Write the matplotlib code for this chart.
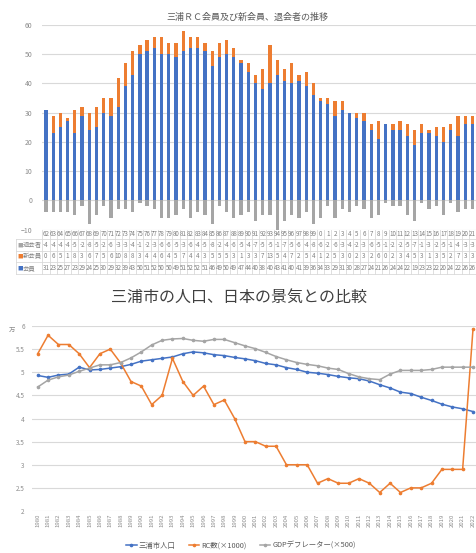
import matplotlib
matplotlib.use('Agg')
import matplotlib.pyplot as plt
import matplotlib.transforms as mtransforms
import numpy as np

plt.rcParams['font.family'] = ['Noto Sans CJK JP', 'DejaVu Sans']

# ---------------- data: top chart ----------------
years_top = ['62', '63', '64', '65', '66', '67', '68', '69', '70', '71',
             '72', '73', '74', '75', '76', '77', '78', '79', '80', '81',
             '82', '83', '84', '85', '86', '87', '88', '89', '90', '91',
             '92', '93', '94', '95', '96', '97', '98', '99', '0', '1',
             '2', '3', '4', '5', '6', '7', '8', '9', '10', '11',
             '12', '13', '14', '15', '16', '17', '18', '19', '20', '21']
members = [31, 23, 25, 27, 23, 29, 24, 25, 30, 29,
           32, 39, 43, 50, 51, 52, 50, 50, 49, 51,
           52, 52, 51, 46, 49, 50, 49, 47, 44, 40,
           38, 40, 43, 41, 40, 41, 39, 36, 34, 33,
           29, 31, 30, 28, 27, 24, 21, 26, 24, 24,
           22, 19, 23, 23, 22, 20, 24, 22, 26, 26]
new_members = [0, 6, 5, 1, 8, 3, 6, 7, 5, 6,
               10, 8, 8, 3, 4, 4, 6, 4, 5, 7,
               4, 4, 3, 5, 5, 5, 3, 1, 3, 3,
               7, 13, 5, 4, 7, 2, 5, 4, 1, 2,
               5, 3, 0, 2, 3, 2, 6, 0, 2, 3,
               4, 5, 3, 1, 3, 5, 2, 7, 3, 3]
retired = [-4, -4, -4, -4, -5, -2, -8, -5, -2, -6,
           -3, -3, -4, -1, -2, -3, -6, -6, -5, -3,
           -6, -4, -5, -8, -2, -4, -6, -5, -4, -7,
           -5, -5, -10, -7, -5, -6, -4, -8, -6, -2,
           -6, -3, -4, -2, -3, -6, -5, -1, -2, -2,
           -5, -7, -1, -3, -2, -5, -1, -4, -3, -3]
row_names = ['退会者', '新会員', '会員']

# ---------------- data: bottom chart ----------------
years_bottom = list(range(1980, 2023))
population = [4.93, 4.89, 4.94, 4.96, 5.11, 5.05, 5.06, 5.09, 5.12, 5.17,
              5.24, 5.27, 5.30, 5.33, 5.40, 5.44, 5.42, 5.38, 5.36, 5.32,
              5.29, 5.25, 5.19, 5.16, 5.10, 5.06, 5.00, 4.98, 4.95, 4.91,
              4.88, 4.86, 4.81, 4.73, 4.66, 4.57, 4.54, 4.46, 4.39, 4.31,
              4.25, 4.21, 4.15]
rc_count = [5.4, 5.8, 5.6, 5.6, 5.4, 5.1, 5.4, 5.5, 5.2, 4.8,
            4.7, 4.3, 4.5, 5.3, 4.8, 4.5, 4.7, 4.3, 4.4, 4.0,
            3.5, 3.5, 3.4, 3.4, 3.0, 3.0, 3.0, 2.6, 2.7, 2.6,
            2.6, 2.7, 2.6, 2.4, 2.6, 2.4, 2.5, 2.5, 2.6, 2.9,
            2.9, 2.9, 5.93]
gdp_deflator = [4.68, 4.83, 4.90, 4.94, 5.02, 5.09, 5.16, 5.16, 5.21, 5.31,
                5.44, 5.59, 5.69, 5.72, 5.73, 5.69, 5.67, 5.71, 5.71, 5.64,
                5.57, 5.51, 5.43, 5.34, 5.27, 5.21, 5.17, 5.14, 5.09, 5.06,
                4.97, 4.90, 4.86, 4.84, 4.96, 5.04, 5.04, 5.04, 5.06, 5.11,
                5.11, 5.11, 5.11]
series_labels = ['三浦市人口', 'RC数(×1000)', 'GDPデフレーター(×500)']

# ---------------- styling ----------------
W, H = 476, 553
BLUE = '#4472C4'
ORANGE = '#ED7D31'
GRAY = '#A5A5A5'
GRID = '#D9D9D9'
TICK = '#8C8C8C'
TXT = '#595959'

fig = plt.figure(figsize=(W / 100, H / 100), dpi=100)


def frac(x0, y0, x1, y1):
    return [x0 / W, 1 - y1 / H, (x1 - x0) / W, (y1 - y0) / H]


# ================= top chart =================
ax1 = fig.add_axes(frac(42.3, 25, 476, 229.5))
x = np.arange(len(years_top))
bw = 0.45
ax1.bar(x, members, width=bw, color=BLUE, zorder=2)
ax1.bar(x, new_members, bottom=members, width=bw, color=ORANGE, zorder=2)
ax1.bar(x, retired, width=bw, color=GRAY, zorder=2)
ax1.set_xlim(-0.5, len(x) - 0.5)
ax1.set_ylim(-10, 60)
ax1.set_yticks(range(-10, 61, 10))
ax1.yaxis.grid(True, color=GRID, lw=0.8)
ax1.set_axisbelow(True)
for s in ax1.spines.values():
    s.set_visible(False)
ax1.set_xticks([])
ax1.tick_params(axis='y', length=0, labelsize=5, labelcolor=TICK, pad=7)

fig.text(247 / W, 1 - 17 / H, '三浦ＲＣ会員及び新会員、退会者の推移',
         ha='center', va='center', fontsize=6.5, color=TXT)

# data table below
ov = fig.add_axes([0, 0, 1, 1], zorder=-1)
ov.set_xlim(0, W)
ov.set_ylim(H, 0)
ov.axis('off')
tr = mtransforms.blended_transform_factory(ax1.transData, ov.transData)

row_edges = [229.5, 239.0, 250.5, 262.0, 273.5]
lbl_left = 15.7
for yy in row_edges[1:]:
    ov.plot([lbl_left, W], [yy, yy], color=GRID, lw=0.6)
ov.plot([lbl_left, lbl_left], [row_edges[1], row_edges[-1]], color=GRID, lw=0.6)
for i in range(len(x) + 1):
    ov.plot([i - 0.5, i - 0.5], [row_edges[0], row_edges[-1]], color=GRID,
            lw=0.6, transform=tr)

tfs = 4.5
tcol = '#7F7F7F'
rows = [retired, new_members, members]
row_cols = [GRAY, ORANGE, BLUE]
for i, yl in enumerate(years_top):
    ov.text(i, (row_edges[0] + row_edges[1]) / 2, yl, transform=tr,
            ha='center', va='center', fontsize=tfs, color=tcol)
    for r, vals in enumerate(rows):
        yc = (row_edges[r + 1] + row_edges[r + 2]) / 2
        s = str(vals[i])
        if len(s) > 2:
            s = s[:2]
        ov.text(i, yc, s, transform=tr, ha='center', va='center',
                fontsize=tfs, color=tcol)
for r, name in enumerate(row_names):
    yc = (row_edges[r + 1] + row_edges[r + 2]) / 2
    ov.text(17.5, yc, '■', ha='left', va='center', fontsize=4, color=row_cols[r])
    ov.text(23, yc, name, ha='left', va='center', fontsize=4.6, color=tcol)

# ================= bottom chart =================
ax2 = fig.add_axes(frac(31.7, 326, 476, 511))
xb = np.arange(len(years_bottom))
ax2.plot(xb, population, color=BLUE, lw=1.1, marker='o', ms=1.6, label=series_labels[0])
ax2.plot(xb, rc_count, color=ORANGE, lw=1.1, marker='o', ms=1.6, label=series_labels[1])
ax2.plot(xb, gdp_deflator, color=GRAY, lw=1.1, marker='o', ms=1.6, label=series_labels[2])
ax2.set_xlim(-0.58, len(xb) - 0.71)
ax2.set_ylim(2, 6)
yt = np.arange(2, 6.01, 0.5)
ax2.set_yticks(yt)
ax2.set_yticklabels([('%g' % v) for v in yt])
ax2.set_xticks(xb)
ax2.set_xticklabels([str(y) for y in years_bottom], rotation=90)
ax2.yaxis.grid(True, color=GRID, lw=0.8)
ax2.set_axisbelow(True)
for s in ax2.spines.values():
    s.set_visible(False)
ax2.tick_params(axis='y', length=0, labelsize=4.6, labelcolor=TICK, pad=5)
ax2.tick_params(axis='x', length=0, labelsize=4.3, labelcolor=TICK, pad=2)

fig.text(239.5 / W, 1 - 297 / H, '三浦市の人口、日本の景気との比較',
         ha='center', va='center', fontsize=11.5, color='#404040')
fig.text(12 / W, 1 - 330 / H, '万', ha='center', va='center', fontsize=4.6,
         color=TICK)

leg = ax2.legend(loc='center', bbox_to_anchor=(241 / W, 1 - 546 / H),
                 bbox_transform=fig.transFigure, ncol=3, frameon=False,
                 fontsize=5.3, handlelength=1.4, columnspacing=1.8,
                 handletextpad=0.3)
for t in leg.get_texts():
    t.set_color(TXT)

fig.savefig('out.png', dpi=100)
